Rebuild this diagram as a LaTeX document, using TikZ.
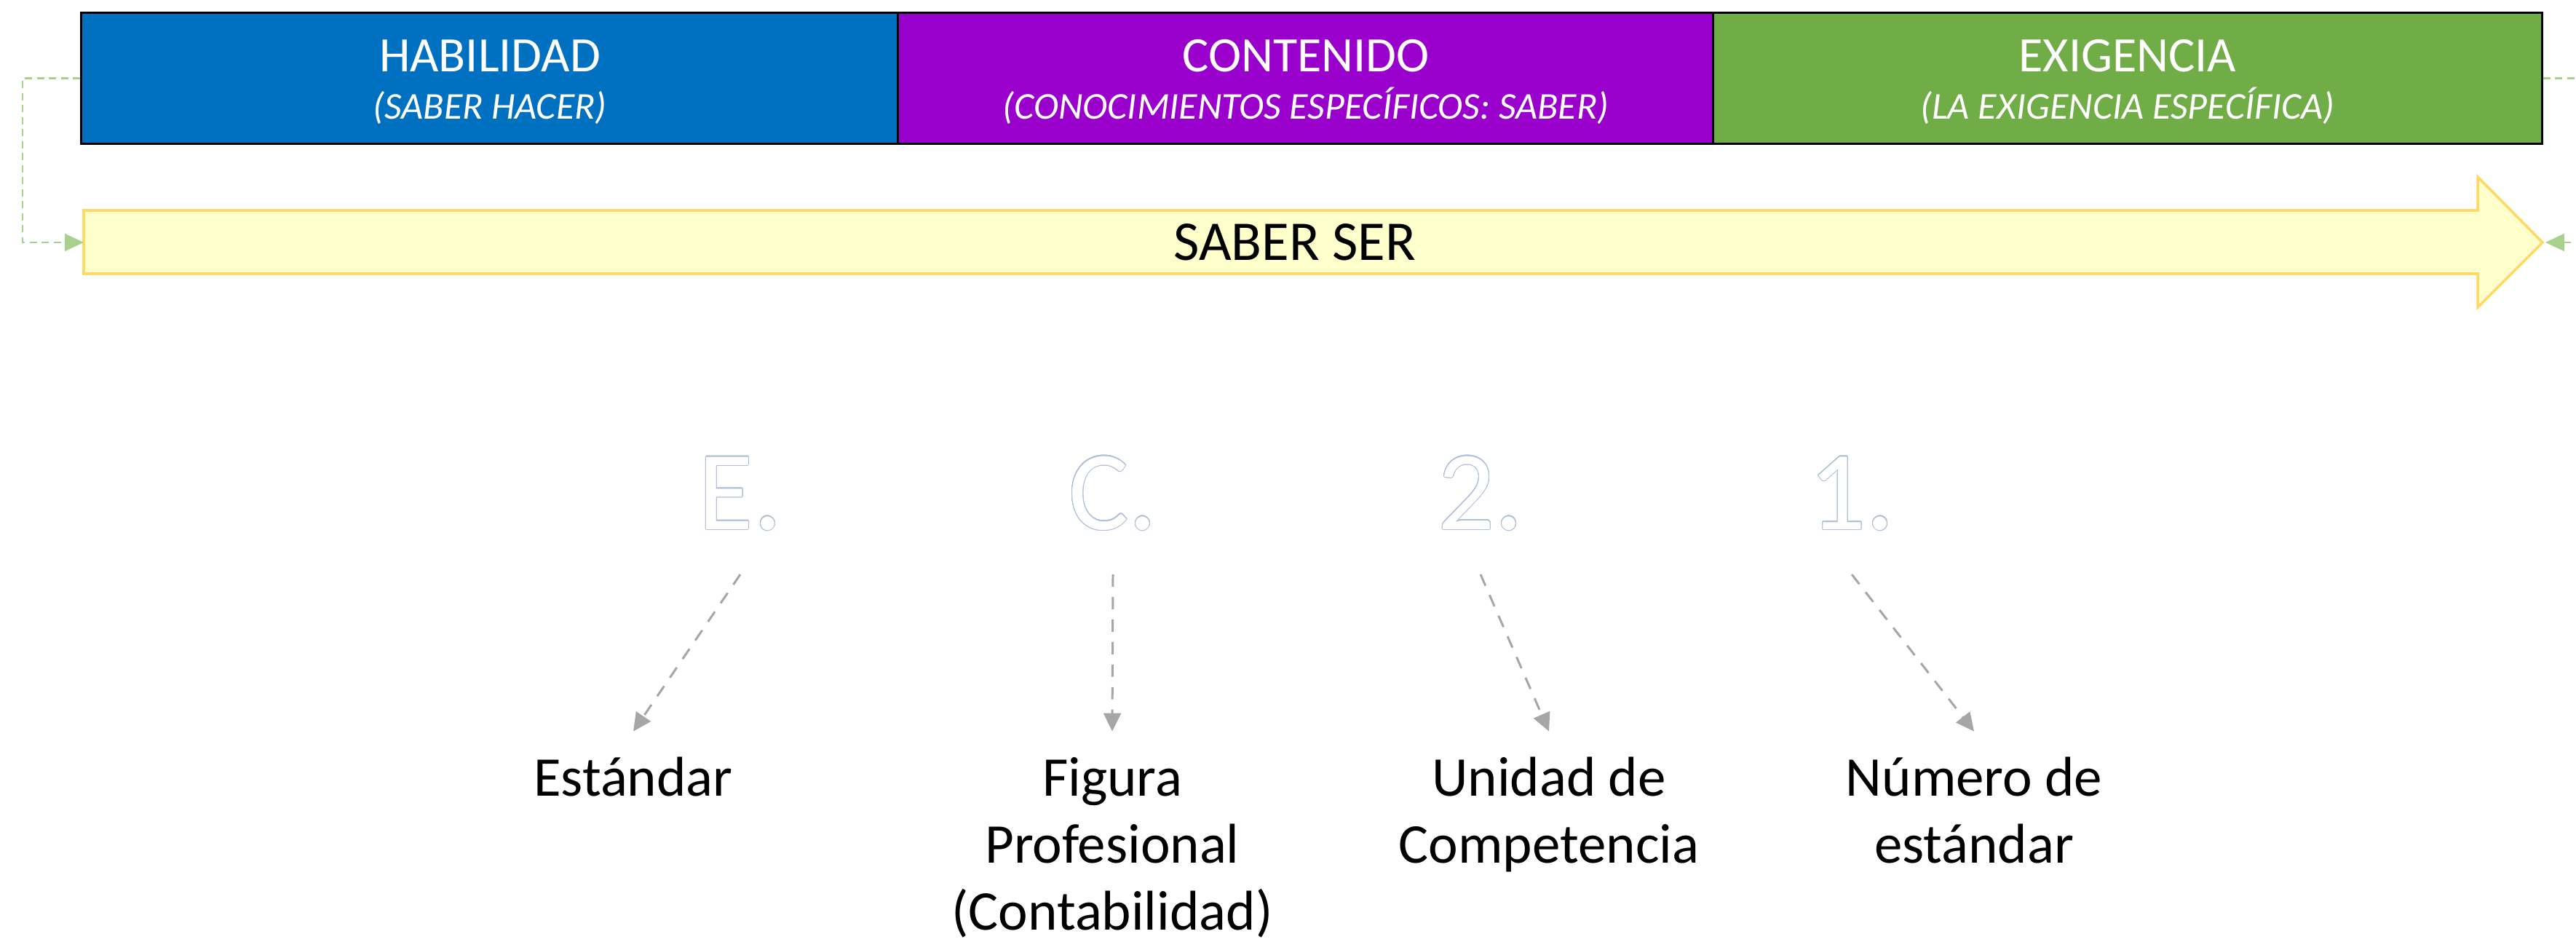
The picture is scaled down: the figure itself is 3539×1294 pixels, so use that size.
\documentclass[tikz,border=0pt]{standalone}
\usepackage{fontspec}
\setmainfont{Carlito}
\usepackage{contour}
\contourlength{0.3pt}
\contournumber{24}
\usetikzlibrary{arrows.meta,calc}
\definecolor{cblue}{HTML}{0070C0}
\definecolor{cpurple}{HTML}{9900CC}
\definecolor{cgreen}{HTML}{70AD47}
\definecolor{cyfill}{HTML}{FFFFCC}
\definecolor{cyline}{HTML}{FFD966}
\definecolor{cgdash}{HTML}{A9D18E}
\definecolor{cgray}{HTML}{A6A6A6}
\definecolor{coutline}{HTML}{B0C0D8}
\newcommand{\outlinetext}[1]{\contour{coutline}{#1}}
\begin{document}
\begin{tikzpicture}[x=0.01cm,y=-0.01cm,
  topbox/.style={draw=black,line width=0.85pt,minimum height=1.79cm,inner sep=0pt},
  toptitle/.style={text=white,font=\fontsize{19.35pt}{23pt}\selectfont,anchor=base,inner sep=0pt},
  topsub/.style={text=white,font=\fontsize{14.8pt}{18pt}\selectfont\itshape,anchor=base,inner sep=0pt},
  bigletter/.style={text=white,font=\fontsize{44pt}{50pt}\selectfont,anchor=base,inner sep=0pt,outer ysep=17pt},
  lbl/.style={font=\fontsize{21.9pt}{26.18pt}\selectfont,anchor=base,inner sep=0pt,outer ysep=6.8pt},
  linkarrow/.style={draw=cgray,line width=0.85pt,dash pattern=on 4.8pt off 4pt,-{Triangle[length=7.1pt,width=6.8pt]}},
  greenlink/.style={draw=cgdash,line width=0.6pt,dash pattern=on 2.8pt off 1.9pt,-{Triangle[length=7.4pt,width=6.8pt]}}
]
\useasboundingbox (0,0) rectangle (3539,1294);

% top boxes
\node[topbox,fill=cblue,minimum width=11.22cm] (hab) at (673,107.5) {};
\node[topbox,fill=cpurple,minimum width=11.20cm] (con) at (1794,107.5) {};
\node[topbox,fill=cgreen,minimum width=11.38cm] (exi) at (2923,107.5) {};

\node[toptitle] (habt) at (673,99) {HABILIDAD};
\node[topsub] (habs) at (673,163) {(SABER HACER)};
\node[toptitle] (cont) at (1794,99) {CONTENIDO};
\node[topsub] (cons) at (1794,163) {(CONOCIMIENTOS ESPECÍFICOS: SABER)};
\node[toptitle] (exit) at (2923,99) {EXIGENCIA};
\node[topsub] (exis) at (2923,163) {(LA EXIGENCIA ESPECÍFICA)};

% block arrow
\coordinate (tail) at (115,333);
\coordinate (tip) at (3493,333);
\filldraw[fill=cyfill,draw=cyline,line width=1pt,line join=miter]
  (115,289) -- (3404,289) -- (3404,243) -- (tip) -- (3404,422) -- (3404,376) -- (115,376) -- cycle;
\node[font=\fontsize{21.9pt}{26pt}\selectfont,inner sep=0pt] (saber) at (1779,333) {SABER SER};

% green dashed connectors
\draw[greenlink] (hab.west) -- ++(-79,0) |- (tail);
\draw[greenlink,shorten >=1.1pt] (exi.east) -- ++(80,0) |- (tip);

% outlined letters
\node[bigletter] (le) at (1017,727) {\outlinetext{E.}};
\node[bigletter] (lc) at (1529,727) {\outlinetext{C.}};
\node[bigletter] (l2) at (2034,727) {\outlinetext{2.}};
\node[bigletter] (l1) at (2544,727) {\outlinetext{1.}};

% labels
\node[lbl] (est) at (870,1093) {\begin{tabular}[t]{@{}c@{}}Estándar\end{tabular}};
\node[lbl] (fig) at (1528,1093) {\begin{tabular}[t]{@{}c@{}}Figura\\Profesional\\(Contabilidad)\end{tabular}};
\node[lbl] (uni) at (2128,1093) {\begin{tabular}[t]{@{}c@{}}Unidad de\\Competencia\end{tabular}};
\node[lbl] (num) at (2712,1093) {\begin{tabular}[t]{@{}c@{}}Número de\\estándar\end{tabular}};

% gray dashed arrows
\draw[linkarrow] (le.south) -- (est.north);
\draw[linkarrow] (lc.south) -- (fig.north);
\draw[linkarrow] (l2.south) -- (uni.north);
\draw[linkarrow] (l1.south) -- (num.north);
\end{tikzpicture}
\end{document}
